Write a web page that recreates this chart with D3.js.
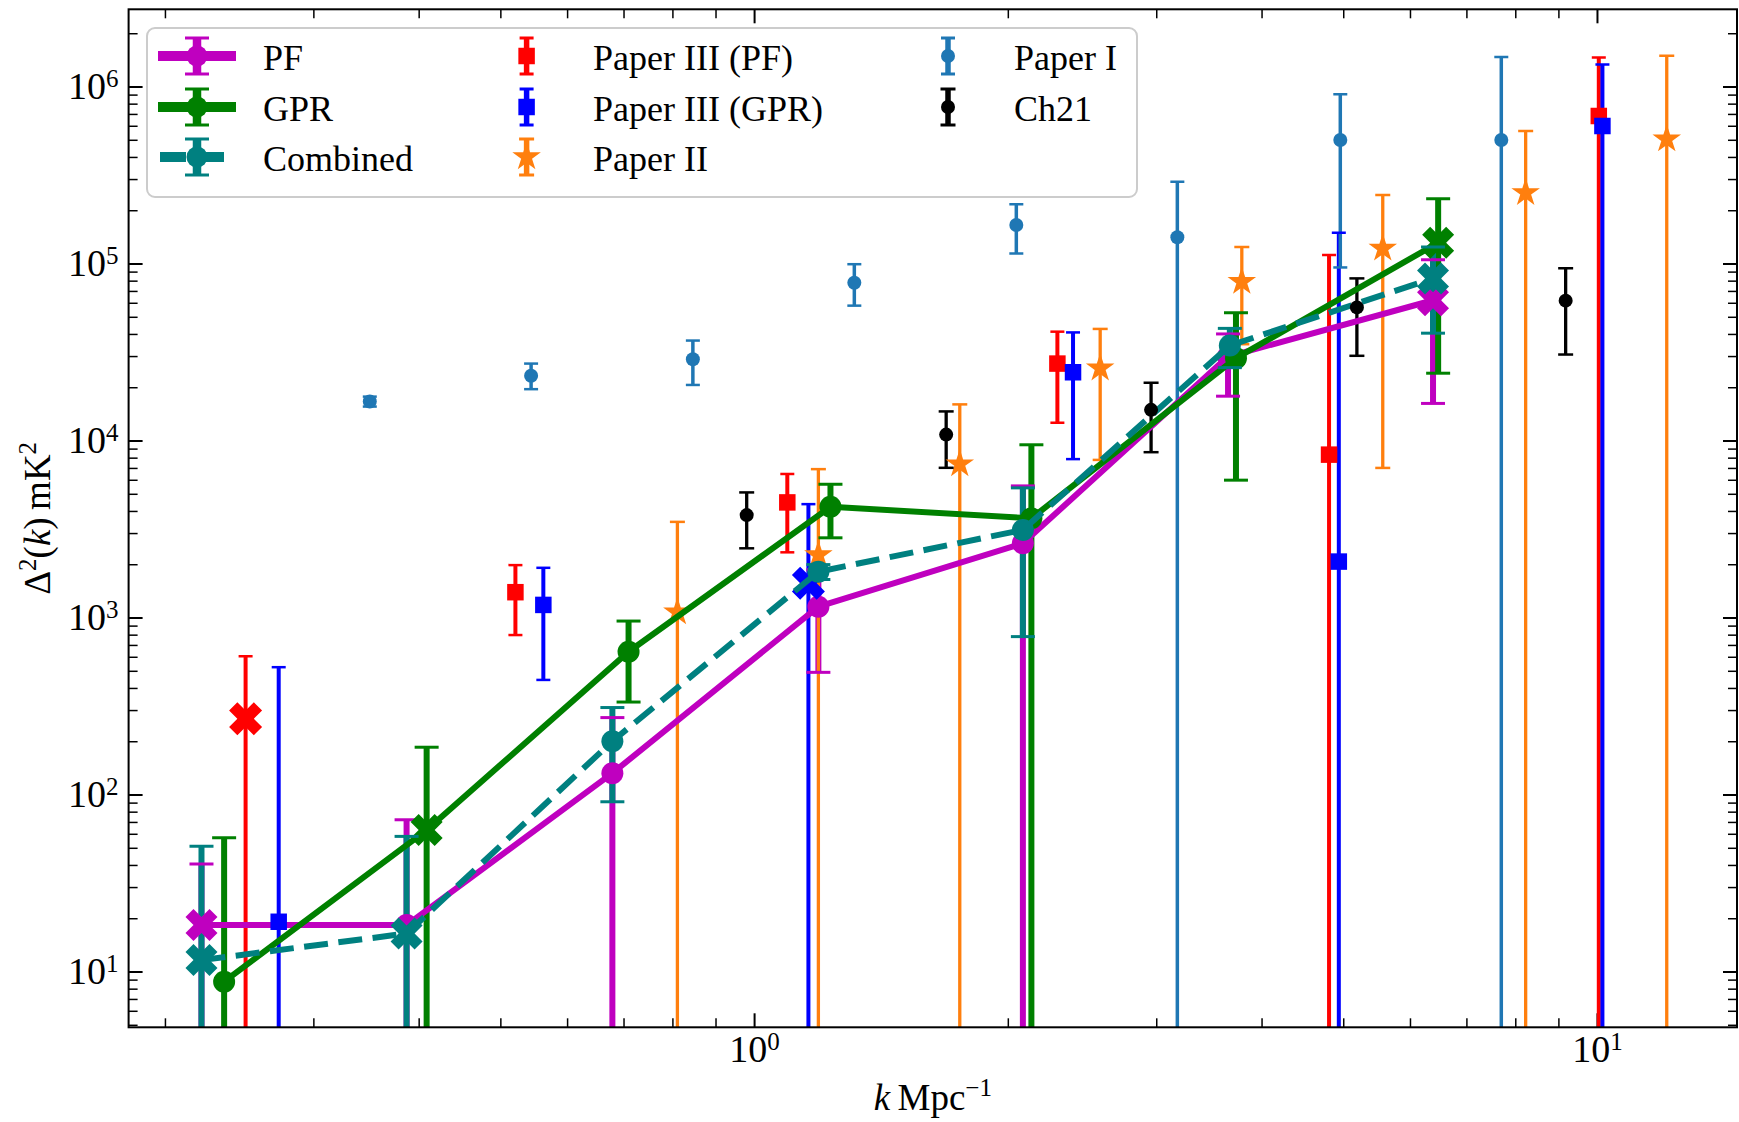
<!DOCTYPE html>
<meta charset="utf-8">
<style>
  body { margin: 0; background: #fff; }
</style>
<body>
<div id="chart"></div>
<script src="https://cdn.jsdelivr.net/npm/d3@7"></script>
<script>
  // ---- data (k in Mpc^-1, Delta^2 in mK^2; lo = 0 means the bar runs off the bottom)
  var kPF  = [0.221, 0.387, 0.679, 1.192, 2.084, 3.65, 6.39];
  var vPF  = [18.3, 18.3, 132, 1151, 2625, 29800, 62000];
  var loPF = [0, 0, 0, 490, 0, 17800, 16200];
  var hiPF = [40.5, 72, 272, 1860, 5540, 40000, 105000];
  var mkPF = ["X", "o", "o", "o", "o", "o", "X"];

  var kGPR  = [0.2351, 0.4088, 0.7097, 1.232, 2.133, 3.73, 6.48];
  var vGPR  = [8.76, 63, 641, 4220, 3635, 29200, 131000];
  var loGPR = [0, 0, 333, 2820, 0, 5970, 24000];
  var hiGPR = [57, 185, 955, 5660, 9460, 52700, 232000];
  var mkGPR = ["o", "X", "o", "o", "o", "o", "X"];

  var kComb  = [0.221, 0.387, 0.679, 1.192, 2.084, 3.668, 6.39];
  var vComb  = [11.6, 16.4, 200, 1815, 3125, 34400, 82400];
  var loComb = [0, 0, 91, 1640, 780, 25800, 40400];
  var hiComb = [51, 58, 310, 1990, 5400, 43000, 124000];
  var mkComb = ["X", "X", "o", "o", "o", "o", "X"];

  var kP3PF  = [0.2493, 0.521, 1.095, 2.29, 4.81, 10.05];
  var vP3PF  = [268, 1390, 4470, 27200, 8320, 681000];
  var loP3PF = [0, 796, 2335, 12600, 0, 0];
  var hiP3PF = [605, 1977, 6470, 41200, 111700, 1460000];
  var mkP3PF = ["X", "s", "s", "s", "s", "s"];

  var kP3GPR  = [0.2729, 0.5623, 1.16, 2.39, 4.94, 10.15];
  var vP3GPR  = [19.1, 1178, 1560, 24300, 2070, 598000];
  var loP3GPR = [0, 444, 0, 7850, 0, 0];
  var hiP3GPR = [524, 1909, 4370, 40800, 149000, 1330000];
  var mkP3GPR = ["s", "s", "X", "s", "s", "s"];

  var kP2  = [0.811, 1.192, 1.754, 2.574, 3.79, 5.57, 8.23, 12.1];
  var vP2  = [1072, 2255, 7360, 25600, 78900, 121600, 251000, 504000];
  var loP2 = [0, 0, 0, 7770, 35000, 7000, 0, 0];
  var hiP2 = [3470, 6890, 16000, 42700, 124000, 244000, 561000, 1490000];

  var kP1  = [0.350, 0.5438, 0.846, 1.315, 2.047, 3.178, 4.96, 7.70];
  var vP1  = [16600, 23200, 28800, 77800, 165000, 140600, 499000, 499000];
  var loP1 = [15550, 19500, 20600, 57800, 114000, 0, 95000, 0];
  var hiP1 = [17700, 27200, 36700, 99100, 216000, 290000, 903000, 1470000];

  var kCh  = [0.980, 1.69, 2.958, 5.19, 9.18];
  var vCh  = [3790, 10800, 14900, 56500, 61700];
  var loCh = [2460, 7010, 8590, 30100, 30600];
  var hiCh = [5090, 14600, 21200, 82400, 94000];

  var names = ["PF", "GPR", "Combined", "Paper III (PF)", "Paper III (GPR)", "Paper II", "Paper I", "Ch21"];

  var xLim = [0.1811, 14.66];
  var yLim = [4.84, 2.73e6];
  var xMajor = [1, 10];
  var yMajor = [10, 100, 1e3, 1e4, 1e5, 1e6];

  // ---- layout
  var W = 1739, H = 1122;
  var margin = { top: 9.3, right: 2, bottom: 94.7, left: 128.6 };
  var FONT = '"Liberation Serif", "Times New Roman", serif';

  var svg = d3.select("#chart").append("svg")
    .attr("width", W).attr("height", H)
    .style("font-family", FONT)
    .style("background", "#fff");

  var x = d3.scaleLog().domain(xLim).range([margin.left, W - margin.right]);
  var y = d3.scaleLog().domain(yLim).range([H - margin.bottom, margin.top]);
  var x0 = margin.left, x1 = W - margin.right, y0 = H - margin.bottom, y1 = margin.top;

  function minorOf(lim) {
    var out = [];
    for (var e = -2; e <= 7; e++)
      for (var m = 2; m <= 9; m++) {
        var v = m * Math.pow(10, e);
        if (v > lim[0] && v < lim[1]) out.push(v);
      }
    return out;
  }
  var xMinor = minorOf(xLim), yMinor = minorOf(yLim);

  function powLabel(sel) {
    sel.each(function (d) {
      var t = d3.select(this).text(null).attr("font-size", 38).attr("fill", "#000");
      t.append("tspan").text("10");
      t.append("tspan").attr("dy", -12).attr("font-size", 25).text(Math.round(Math.log10(d)));
    });
  }

  function axis(fn, scale, vals, size, tr, labelled, pad) {
    var a = fn(scale).tickValues(vals).tickSize(-size).tickPadding(pad || 3);
    a.tickFormat(labelled ? function () { return ""; } : "");
    var g = svg.append("g").attr("transform", tr).call(a)
      .attr("font-family", null).attr("font-size", null);
    g.select(".domain").remove();
    g.selectAll(".tick line").attr("stroke", "#000").attr("stroke-width", size > 10 ? 2 : 1.5);
    if (labelled) g.selectAll(".tick text").call(powLabel);
    else g.selectAll(".tick text").remove();
    return g;
  }

  // inward ticks on all four sides
  axis(d3.axisBottom, x, xMinor, 9, "translate(0," + y0 + ")", false);
  axis(d3.axisBottom, x, xMajor, 14, "translate(0," + y0 + ")", true, 7.7);
  axis(d3.axisTop, x, xMinor, 9, "translate(0," + y1 + ")", false);
  axis(d3.axisTop, x, xMajor, 14, "translate(0," + y1 + ")", false);
  axis(d3.axisLeft, y, yMinor, 9, "translate(" + x0 + ",0)", false);
  axis(d3.axisLeft, y, yMajor, 14, "translate(" + x0 + ",0)", true, 10);
  axis(d3.axisRight, y, yMinor, 9, "translate(" + x1 + ",0)", false);
  axis(d3.axisRight, y, yMajor, 14, "translate(" + x1 + ",0)", false);

  // ---- marker shapes
  function xPath(h) {
    var L = 0.75 * h * Math.SQRT2, w = L / 3, c = Math.SQRT1_2;
    var pts = [[-w, -L], [w, -L], [w, -w], [L, -w], [L, w], [w, w], [w, L], [-w, L], [-w, w], [-L, w], [-L, -w], [-w, -w]];
    return "M" + pts.map(function (p) { return [(p[0] - p[1]) * c, (p[0] + p[1]) * c].join(","); }).join("L") + "Z";
  }
  function markerPath(m, s) {
    if (m === "X") return xPath(s.xh);
    if (m === "s") return d3.symbol(d3.symbolSquare, s.sq * s.sq)();
    if (m === "*") return d3.symbol(d3.symbolStar, s.star * s.star / 0.8908130915292852)();
    return d3.symbol(d3.symbolCircle, Math.PI * s.r * s.r)();
  }
  function fill(n, v) { return d3.range(n).map(function () { return v; }); }

  var big = { r: 11, xh: 16, lw: 6, ew: 6, cap: 24, capw: 3 };
  var series = [
    Object.assign({ name: names[0], k: kPF, v: vPF, lo: loPF, hi: hiPF, mk: mkPF, color: "#bf00bf", join: true }, big),
    Object.assign({ name: names[1], k: kGPR, v: vGPR, lo: loGPR, hi: hiGPR, mk: mkGPR, color: "#008000", join: true }, big),
    Object.assign({ name: names[2], k: kComb, v: vComb, lo: loComb, hi: hiComb, mk: mkComb, color: "#008080", join: true, dash: "24,10.5" }, big),
    { name: names[3], k: kP3PF, v: vP3PF, lo: loP3PF, hi: hiP3PF, mk: mkP3PF, color: "#ff0000", sq: 16.5, xh: 16.5, ew: 4, cap: 14, capw: 2.5 },
    { name: names[4], k: kP3GPR, v: vP3GPR, lo: loP3GPR, hi: hiP3GPR, mk: mkP3GPR, color: "#0000ff", sq: 16.5, xh: 16.5, ew: 4, cap: 14, capw: 2.5 },
    { name: names[5], k: kP2, v: vP2, lo: loP2, hi: hiP2, mk: fill(kP2.length, "*"), color: "#ff7f0e", star: 15, ew: 3.3, cap: 15, capw: 2.5 },
    { name: names[6], k: kP1, v: vP1, lo: loP1, hi: hiP1, mk: fill(kP1.length, "o"), color: "#1f77b4", r: 7, ew: 3.5, cap: 14, capw: 2.5 },
    { name: names[7], k: kCh, v: vCh, lo: loCh, hi: hiCh, mk: fill(kCh.length, "o"), color: "#000000", r: 7, ew: 3.3, cap: 15, capw: 2.5 }
  ];
  var byName = {};
  series.forEach(function (s) { byName[s.name] = s; });

  svg.append("clipPath").attr("id", "plot-clip")
    .append("rect").attr("x", x0).attr("y", y1).attr("width", x1 - x0).attr("height", y0 - y1);

  var plot = svg.append("g").attr("clip-path", "url(#plot-clip)");
  function yc(v) { return v > 0 ? y(v) : y0 + 20; }

  // error bar stems sit underneath everything else
  var stems = plot.append("g");
  series.forEach(function (s) {
    stems.selectAll(null).data(s.k).enter().append("line")
      .attr("x1", function (d) { return x(d); }).attr("x2", function (d) { return x(d); })
      .attr("y1", function (d, i) { return yc(s.lo[i]); })
      .attr("y2", function (d, i) { return y(s.hi[i]); })
      .attr("stroke", s.color).attr("stroke-width", s.ew);
  });

  var drawOrder = ["PF", "Paper III (PF)", "Paper III (GPR)", "Paper II", "Paper I", "GPR", "Combined", "Ch21"];
  drawOrder.forEach(function (n) {
    var s = byName[n];
    var g = plot.append("g");
    if (s.join) {
      g.append("path")
        .attr("d", d3.line().x(function (d) { return x(d); }).y(function (d, i) { return y(s.v[i]); })(s.k))
        .attr("fill", "none").attr("stroke", s.color).attr("stroke-width", s.lw)
        .attr("stroke-dasharray", s.dash || null).attr("stroke-linejoin", "round");
    }
    var caps = [];
    s.k.forEach(function (k, i) {
      caps.push([k, s.hi[i]]);
      if (s.lo[i] > 0) caps.push([k, s.lo[i]]);
    });
    g.selectAll(null).data(caps).enter().append("line")
      .attr("x1", function (d) { return x(d[0]) - s.cap / 2; })
      .attr("x2", function (d) { return x(d[0]) + s.cap / 2; })
      .attr("y1", function (d) { return y(d[1]); }).attr("y2", function (d) { return y(d[1]); })
      .attr("stroke", s.color).attr("stroke-width", s.capw);
    g.selectAll(null).data(s.k).enter().append("path")
      .attr("d", function (d, i) { return markerPath(s.mk[i], s); })
      .attr("transform", function (d, i) { return "translate(" + x(d) + "," + y(s.v[i]) + ")"; })
      .attr("fill", s.color);
  });

  // frame
  svg.append("rect").attr("x", x0).attr("y", y1).attr("width", x1 - x0).attr("height", y0 - y1)
    .attr("fill", "none").attr("stroke", "#000").attr("stroke-width", 2);

  // ---- axis labels
  var xl = svg.append("text").attr("x", (x0 + x1) / 2).attr("y", 1110)
    .attr("text-anchor", "middle").attr("font-size", 37).attr("fill", "#000");
  xl.append("tspan").attr("font-style", "italic").text("k");
  xl.append("tspan").text("\u2009Mpc");
  xl.append("tspan").attr("dy", -14).attr("font-size", 25).text("\u22121");

  var yl = svg.append("text")
    .attr("transform", "translate(50," + ((y0 + y1) / 2) + ") rotate(-90)")
    .attr("text-anchor", "middle").attr("font-size", 37).attr("fill", "#000");
  yl.append("tspan").text("\u0394");
  yl.append("tspan").attr("dy", -14).attr("font-size", 25).text("2");
  yl.append("tspan").attr("dy", 14).text("(");
  yl.append("tspan").attr("font-style", "italic").text("k");
  yl.append("tspan").text(")\u2009mK");
  yl.append("tspan").attr("dy", -14).attr("font-size", 25).text("2");

  // ---- legend
  var leg = svg.append("g");
  leg.append("rect").attr("x", 147).attr("y", 28).attr("width", 990).attr("height", 169).attr("rx", 8)
    .attr("fill", "#fff").attr("fill-opacity", 0.8).attr("stroke", "#cccccc").attr("stroke-width", 2);

  var colHandle = [197, 526.6, 948], colText = [263, 593, 1014], rowY = [56, 107, 157];
  var legCols = [["PF", "GPR", "Combined"], ["Paper III (PF)", "Paper III (GPR)", "Paper II"], ["Paper I", "Ch21"]];

  legCols.forEach(function (col, ci) {
    col.forEach(function (n, ri) {
      var s = byName[n], cx = colHandle[ci], cy = rowY[ri];
      var g = leg.append("g");
      var bw = s.join ? 8.5 : 5.5;
      if (s.join) {
        g.append("line").attr("x1", s.dash ? 160 : 158).attr("x2", s.dash ? 228 : 236)
          .attr("y1", cy).attr("y2", cy).attr("stroke", s.color).attr("stroke-width", 10)
          .attr("stroke-dasharray", s.dash ? "26,12" : null);
      }
      g.append("line").attr("x1", cx).attr("x2", cx).attr("y1", cy - 18).attr("y2", cy + 18)
        .attr("stroke", s.color).attr("stroke-width", bw);
      [cy - 18, cy + 18].forEach(function (yy) {
        g.append("line").attr("x1", cx - s.cap / 2).attr("x2", cx + s.cap / 2)
          .attr("y1", yy).attr("y2", yy).attr("stroke", s.color).attr("stroke-width", 3);
      });
      var mk = s.mk[0] === "X" ? (s.mk.indexOf("s") >= 0 ? "s" : "o") : s.mk[0];
      g.append("path").attr("d", markerPath(mk, s.join ? { r: 10.5 } : s))
        .attr("transform", "translate(" + cx + "," + cy + ")").attr("fill", s.color);
      leg.append("text").attr("x", colText[ci]).attr("y", cy + 13.6)
        .attr("font-size", 36).attr("fill", "#000").text(n);
    });
  });
</script>
</body>
